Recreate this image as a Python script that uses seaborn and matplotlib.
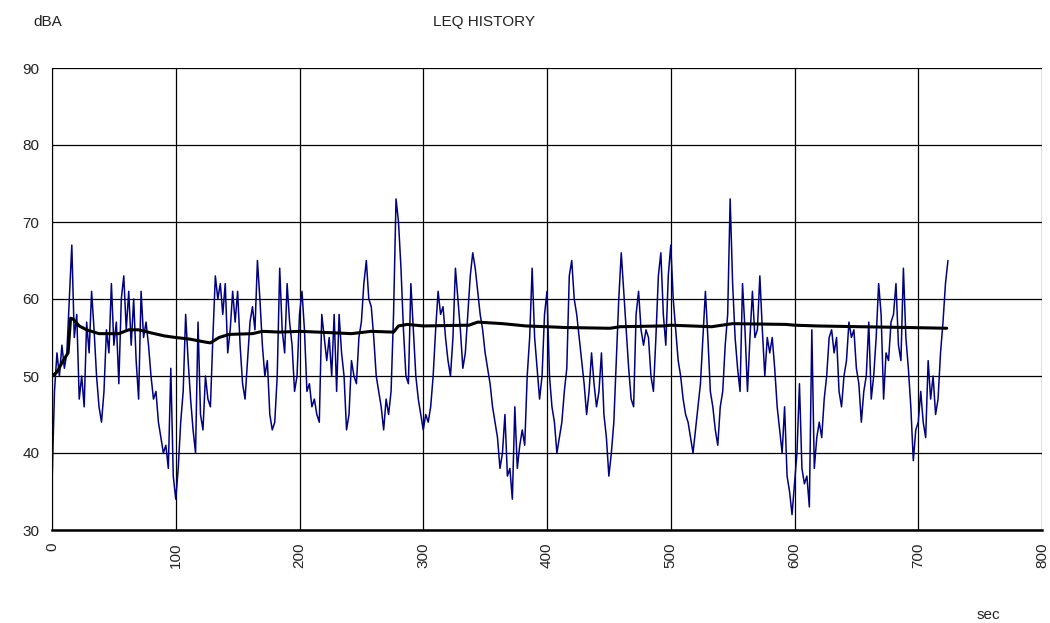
import numpy as np
import pandas as pd
import seaborn as sns
import matplotlib
matplotlib.use('Agg')
import matplotlib.pyplot as plt

# sound level, one reading every 2 s from 0 to 724 s (dBA)
level_db = [
    36, 48, 53, 50, 54, 51, 53, 60, 67, 55,   # 0-18
    58, 47, 50, 46, 57, 53, 61, 56, 50, 46,   # 20-38
    44, 48, 56, 53, 62, 54, 57, 49, 60, 63,   # 40-58
    56, 61, 54, 60, 52, 47, 61, 55, 57, 54,   # 60-78
    50, 47, 48, 44, 42, 40, 41, 38, 51, 37,   # 80-98
    34, 38, 44, 48, 58, 52, 47, 43, 40, 57,   # 100-118
    45, 43, 50, 47, 46, 55, 63, 60, 62, 58,   # 120-138
    62, 53, 56, 61, 57, 61, 54, 49, 47, 52,   # 140-158
    57, 59, 56, 65, 60, 54, 50, 52, 45, 43,   # 160-178
    44, 50, 64, 56, 53, 62, 57, 54, 48, 50,   # 180-198
    58, 61, 56, 48, 49, 46, 47, 45, 44, 58,   # 200-218
    55, 52, 55, 50, 58, 48, 58, 53, 50, 43,   # 220-238
    45, 52, 50, 49, 55, 57, 62, 65, 60, 59,   # 240-258
    55, 50, 48, 46, 43, 47, 45, 48, 58, 73,   # 260-278
    70, 64, 56, 50, 49, 62, 56, 50, 47, 45,   # 280-298
    43, 45, 44, 46, 50, 56, 61, 58, 59, 55,   # 300-318
    52, 50, 55, 64, 60, 56, 51, 53, 58, 63,   # 320-338
    66, 64, 61, 58, 56, 53, 51, 49, 46, 44,   # 340-358
    42, 38, 40, 45, 37, 38, 34, 46, 38, 41,   # 360-378
    43, 41, 50, 55, 64, 55, 51, 47, 50, 58,   # 380-398
    61, 50, 46, 44, 40, 42, 44, 48, 51, 63,   # 400-418
    65, 60, 58, 55, 52, 49, 45, 48, 53, 49,   # 420-438
    46, 48, 53, 45, 42, 37, 40, 44, 52, 60,   # 440-458
    66, 61, 56, 51, 47, 46, 58, 61, 56, 54,   # 460-478
    56, 55, 50, 48, 55, 63, 66, 58, 54, 63,   # 480-498
    67, 60, 56, 52, 50, 47, 45, 44, 42, 40,   # 500-518
    43, 46, 49, 55, 61, 55, 48, 46, 43, 41,   # 520-538
    46, 48, 54, 58, 73, 62, 55, 51, 48, 62,   # 540-558
    56, 48, 55, 61, 55, 56, 63, 56, 50, 55,   # 560-578
    53, 55, 51, 46, 43, 40, 46, 37, 35, 32,   # 580-598
    36, 40, 49, 38, 36, 37, 33, 56, 38, 42,   # 600-618
    44, 42, 47, 50, 55, 56, 53, 55, 48, 46,   # 620-638
    50, 52, 57, 55, 56, 51, 49, 44, 48, 50,   # 640-658
    57, 47, 50, 55, 62, 58, 47, 53, 52, 57,   # 660-678
    58, 62, 54, 52, 64, 55, 51, 46, 39, 43,   # 680-698
    44, 48, 44, 42, 52, 47, 50, 45, 47, 53,   # 700-718
    57, 62, 65,                               # 720-724
]
level_sec = list(range(0, 2 * len(level_db), 2))

# running Leq, read at its bends
leq_sec = [0, 4, 9, 13, 15, 17, 22, 28, 38, 54, 62, 70, 80, 91, 100, 111,
           124, 128, 135, 143, 162, 170, 184, 200, 215, 242, 258, 276, 280,
           287, 300, 337, 344, 364, 383, 400, 414, 451, 459, 494, 500, 533,
           550, 593, 600, 618, 653, 691, 723]
leq_db = [50, 50.5, 52, 53, 57.5, 57.4, 56.5, 56, 55.5, 55.5, 56, 56, 55.6,
          55.2, 55, 54.8, 54.4, 54.3, 55, 55.4, 55.5, 55.8, 55.7, 55.8, 55.7,
          55.5, 55.8, 55.7, 56.5, 56.7, 56.5, 56.6, 57, 56.8, 56.5, 56.4,
          56.3, 56.2, 56.4, 56.5, 56.6, 56.4, 56.8, 56.7, 56.6, 56.5, 56.4,
          56.3, 56.2]

x_ticks = [0, 100, 200, 300, 400, 500, 600, 700, 800]
y_ticks = [30, 40, 50, 60, 70, 80, 90]

sns.set_style('white')
plt.rcParams['font.family'] = ['Liberation Sans', 'DejaVu Sans']

level = pd.DataFrame({'sec': level_sec, 'db': level_db})
leq = pd.DataFrame({'sec': leq_sec, 'db': leq_db})

fig = plt.figure(figsize=(10.5, 6.23), dpi=100)
ax = fig.add_axes([52 / 1050, 1 - 530 / 623, 990 / 1050, 462 / 623])

sns.lineplot(data=level, x='sec', y='db', color='#000080', lw=1.1, ax=ax)
sns.lineplot(data=leq, x='sec', y='db', color='black', lw=2.2, ax=ax)

ax.set_xlim(0, 800)
ax.set_ylim(30, 90)
ax.set_xticks(x_ticks)
ax.set_yticks(y_ticks)
ax.set_xticklabels([str(t) for t in x_ticks], rotation=90)
ax.set_xlabel('')
ax.set_ylabel('')
ax.grid(True, color='black', lw=0.9)
ax.set_axisbelow(True)
ax.tick_params(direction='out', length=5, width=1, color='black',
               labelsize=11, labelcolor='#222222', pad=4)
for s in ax.spines.values():
    s.set_visible(False)
ax.spines['left'].set_visible(True)
ax.spines['bottom'].set_visible(True)
ax.spines['left'].set_color('black')
ax.spines['bottom'].set_color('black')
ax.spines['bottom'].set_linewidth(1.8)

fig.text(48 / 1050, 1 - 22 / 623, 'dBA', ha='center', va='center',
         fontsize=11, color='#222222')
fig.text(484 / 1050, 1 - 22 / 623, 'LEQ HISTORY', ha='center', va='center',
         fontsize=11, color='#222222')
fig.text(988 / 1050, 1 - 615 / 623, 'sec', ha='center', va='center',
         fontsize=11, color='#222222')

fig.savefig('out.png', dpi=100)
